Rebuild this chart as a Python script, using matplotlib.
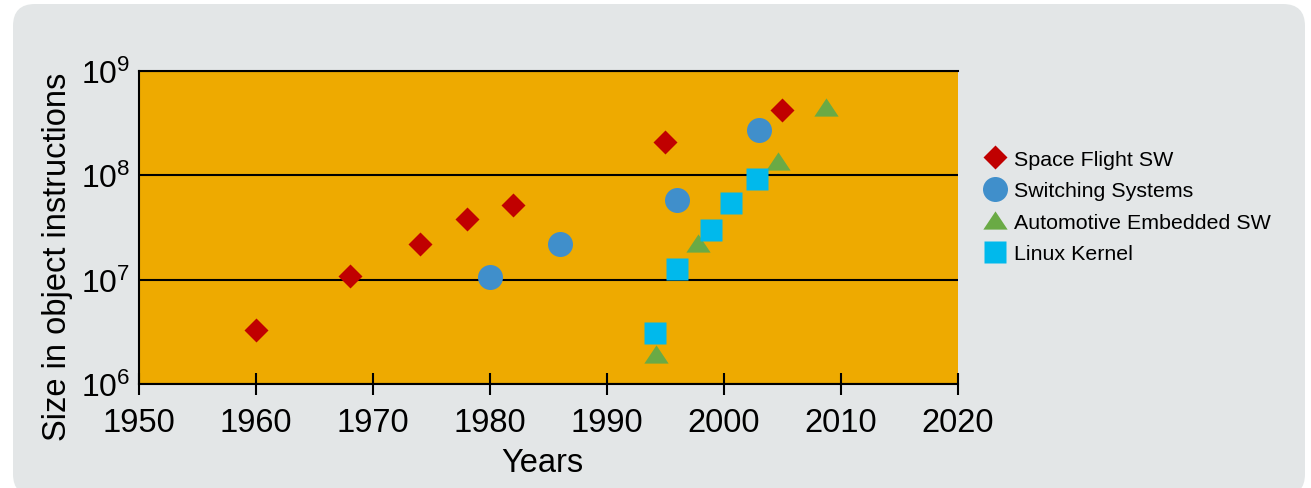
#!/usr/bin/env python3
"""Software size growth — log-scale scatter by domain."""
import matplotlib
matplotlib.use("Agg")
import matplotlib.pyplot as plt
from matplotlib.patches import FancyBboxPatch
from matplotlib.ticker import FixedLocator, NullLocator

plt.rcParams["font.family"] = ["Liberation Sans", "DejaVu Sans"]
plt.rcParams["mathtext.fontset"] = "custom"
plt.rcParams["mathtext.rm"] = "Liberation Sans"

# data
space_years = [1960, 1968, 1974, 1978, 1982, 1995, 2005]
space_size = [3.3e6, 1.08e7, 2.2e7, 3.8e7, 5.2e7, 2.1e8, 4.2e8]

switch_years = [1980, 1986, 1996, 2003]
switch_size = [1.06e7, 2.2e7, 5.8e7, 2.7e8]

auto_years = [1994.2, 1997.8, 2004.6, 2008.7]
auto_size = [1.94e6, 2.25e7, 1.38e8, 4.5e8]

linux_years = [1994.1, 1996.0, 1998.9, 2000.6, 2002.8]
linux_size = [3.1e6, 1.27e7, 3.0e7, 5.4e7, 9.2e7]

x_ticks = [1950, 1960, 1970, 1980, 1990, 2000, 2010, 2020]
y_ticks = [1e6, 1e7, 1e8, 1e9]
y_labels = [r"$\mathregular{10^6}$", r"$\mathregular{10^7}$",
            r"$\mathregular{10^8}$", r"$\mathregular{10^9}$"]

RED = "#C00000"
BLUE = "#408FCB"
GREEN = "#6AAA45"
CYAN = "#00B9EC"
ORANGE = "#EEAA00"
GRAY = "#E3E6E7"

fig = plt.figure(figsize=(13.11, 4.89), dpi=100)
fig.patch.set_facecolor("white")
bg = FancyBboxPatch((0.13, -0.08), 12.92, 4.92,
                    boxstyle="round,pad=0,rounding_size=0.22",
                    transform=fig.dpi_scale_trans, facecolor=GRAY,
                    edgecolor="none", zorder=-10)
fig.patches.append(bg)

ax = fig.add_axes([0.106, 0.2127, 0.6247, 0.6401])
ax.set_facecolor(ORANGE)
ax.set_yscale("log")
ax.set_xlim(1950, 2020)
ax.set_ylim(1e6, 1e9)

tri = [(-1, -0.75), (1, -0.75), (0, 0.75)]
ax.plot(space_years, space_size, ls="none", marker="D", ms=11.8,
        color=RED, mec="none", label="Space Flight SW", zorder=3)
ax.plot(switch_years, switch_size, ls="none", marker="o", ms=18,
        color=BLUE, mec="none", label="Switching Systems", zorder=3)
ax.plot(auto_years, auto_size, ls="none", marker=tri, ms=17.5,
        color=GREEN, mec="none", label="Automotive Embedded SW", zorder=3)
ax.plot(linux_years, linux_size, ls="none", marker="s", ms=16.5,
        color=CYAN, mec="none", label="Linux Kernel", zorder=4)

ax.yaxis.set_major_locator(FixedLocator(y_ticks))
ax.yaxis.set_minor_locator(NullLocator())
ax.set_yticklabels(y_labels)
ax.set_xticks(x_ticks)
ax.tick_params(axis="y", length=0, pad=6, labelsize=23)
ax.tick_params(axis="x", direction="inout", length=16.5, width=1.5,
               pad=8, labelsize=23.5)
ax.grid(axis="y", color="black", lw=1.5)
ax.set_axisbelow(True)
for side in ("left", "bottom", "top"):
    ax.spines[side].set_linewidth(1.5)
ax.spines["right"].set_visible(False)

ax.set_xlabel("Years", fontsize=23.5)
ax.set_ylabel("Size in object instructions", fontsize=23.5)
ax.xaxis.set_label_coords(0.4927, -0.2013)
ax.yaxis.set_label_coords(-0.0805, 0.4105)

ax.legend(loc="upper left", bbox_to_anchor=(1.0214, 0.775), frameon=False,
          fontsize=15.4, handletextpad=0.39, labelspacing=0.58,
          handlelength=1.0, borderaxespad=0, markerscale=1.0)

fig.savefig("out.png", dpi=100)
